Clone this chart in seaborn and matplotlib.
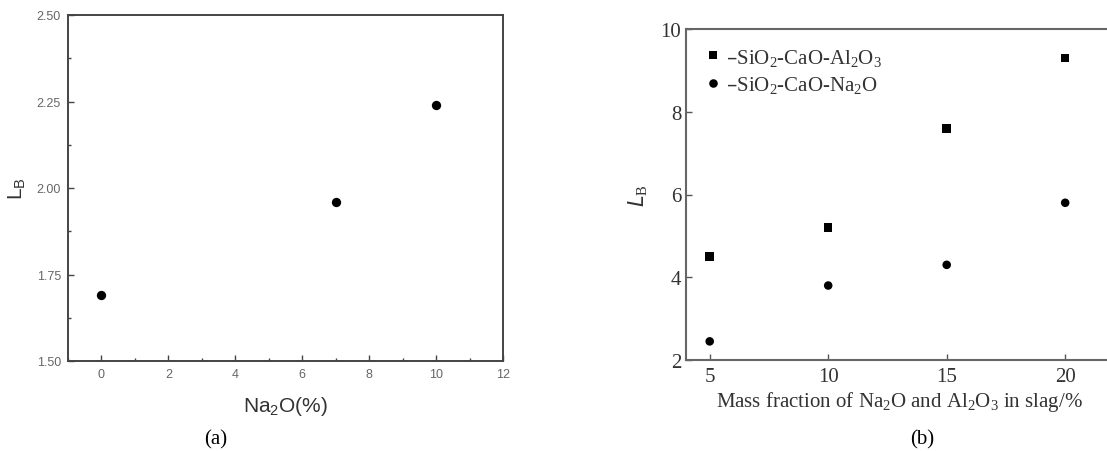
import matplotlib
matplotlib.use("Agg")
import matplotlib.pyplot as plt
from matplotlib.ticker import MultipleLocator
import seaborn as sns
import pandas as pd

# ---- data panel (a)
na2o_pct = [0, 7, 10]
lb_a = [1.69, 1.96, 2.24]

# ---- data panel (b)
mass_fraction = [5, 10, 15, 20]
lb_al2o3 = [4.5, 5.2, 7.6, 9.3]
lb_na2o = [2.45, 3.8, 4.3, 5.8]
series_names = ["SiO2-CaO-Al2O3", "SiO2-CaO-Na2O"]
legend_labels = [r"–SiO$\mathregular{_2}$-CaO-Al$\mathregular{_2}$O$\mathregular{_3}$",
                 r"–SiO$\mathregular{_2}$-CaO-Na$\mathregular{_2}$O"]

sns.set_style("ticks")
plt.rcParams["font.family"] = ["Liberation Sans", "DejaVu Sans"]

W, H = 1107, 452
fig = plt.figure(figsize=(W / 100, H / 100), dpi=100)

def pos(l, t, r, b):
    return [l / W, (H - b) / H, (r - l) / W, (b - t) / H]

# ---------------- panel (a)
ax1 = fig.add_axes(pos(68, 16, 503, 362))
dfa = pd.DataFrame({"x": na2o_pct, "y": lb_a})
sns.scatterplot(data=dfa, x="x", y="y", ax=ax1, color="black", s=45,
                marker="o", edgecolor="black", linewidth=0)
ax1.set_xlim(-1, 12)
ax1.set_ylim(1.5, 2.5)
ax1.xaxis.set_major_locator(MultipleLocator(2))
ax1.xaxis.set_minor_locator(MultipleLocator(1))
ax1.yaxis.set_major_locator(MultipleLocator(0.25))
ax1.yaxis.set_minor_locator(MultipleLocator(0.125))
ax1.yaxis.set_major_formatter(matplotlib.ticker.FormatStrFormatter("%.2f"))
ax1.tick_params(which="both", direction="in", top=False, right=False,
                colors="#444444", labelcolor="#666666", labelsize=9)
ax1.tick_params(which="major", length=4, width=1, pad=5)
ax1.tick_params(which="minor", length=2.5, width=1)
for s in ax1.spines.values():
    s.set_color("#444444")
    s.set_linewidth(1.4)
    s.set_visible(True)
ax1.set_xlabel(r"Na$\mathregular{_2}$O(%)", fontsize=15, color="#333333", labelpad=10)
ax1.set_ylabel(r"L$\mathregular{_B}$", fontsize=15, color="#333333", labelpad=6)
fig.text(216 / W, 1 - 440 / H, "(a)", family="Liberation Serif", fontsize=15,
         ha="center", va="center", color="black")

# ---------------- panel (b)
ax2 = fig.add_axes(pos(686, 30, 686 + 18 * 23.7, 361))
dfb = pd.DataFrame({
    "x": mass_fraction * 2,
    "y": lb_al2o3 + lb_na2o,
    "system": [series_names[0]] * 4 + [series_names[1]] * 4,
})
sns.scatterplot(data=dfb, x="x", y="y", hue="system", style="system", ax=ax2,
                palette=["black", "black"], markers=["s", "o"], s=38,
                edgecolor="black", linewidth=0, legend=True)
ax2.set_xlim(4, 22)
ax2.set_ylim(2, 10)
ax2.set_xticks(mass_fraction)
ax2.set_yticks([2, 4, 6, 8, 10])
ax2.tick_params(axis="x", pad=5)
ax2.tick_params(which="both", direction="in", top=False, right=False,
                colors="#555555", labelcolor="#333333", labelsize=15,
                length=4, width=1)
for lab in ax2.get_xticklabels() + ax2.get_yticklabels():
    lab.set_family("Liberation Serif")
for s in ax2.spines.values():
    s.set_color("#666666")
    s.set_linewidth(1.5)
    s.set_visible(True)
ax2.set_xlabel(r"Mass fraction of Na$\mathregular{_2}$O and Al$\mathregular{_2}$O$\mathregular{_3}$ in slag/%",
               family="Liberation Serif", fontsize=15, color="#333333", labelpad=2)
ax2.set_ylabel(r"$\mathregular{\mathit{L}_B}$", family="Liberation Serif", fontsize=15,
               color="#333333", labelpad=8)
handles, _ = ax2.get_legend_handles_labels()
leg = ax2.legend(handles, legend_labels, loc="upper left", frameon=False,
                 prop={"family": "Liberation Serif", "size": 15},
                 handletextpad=0.15, handlelength=0.9, borderaxespad=0.5,
                 borderpad=0.35, labelspacing=0.3, labelcolor="#333333")
fig.text(922 / W, 1 - 440 / H, "(b)", family="Liberation Serif", fontsize=15,
         ha="center", va="center", color="black")

fig.savefig("out.png", dpi=100)
